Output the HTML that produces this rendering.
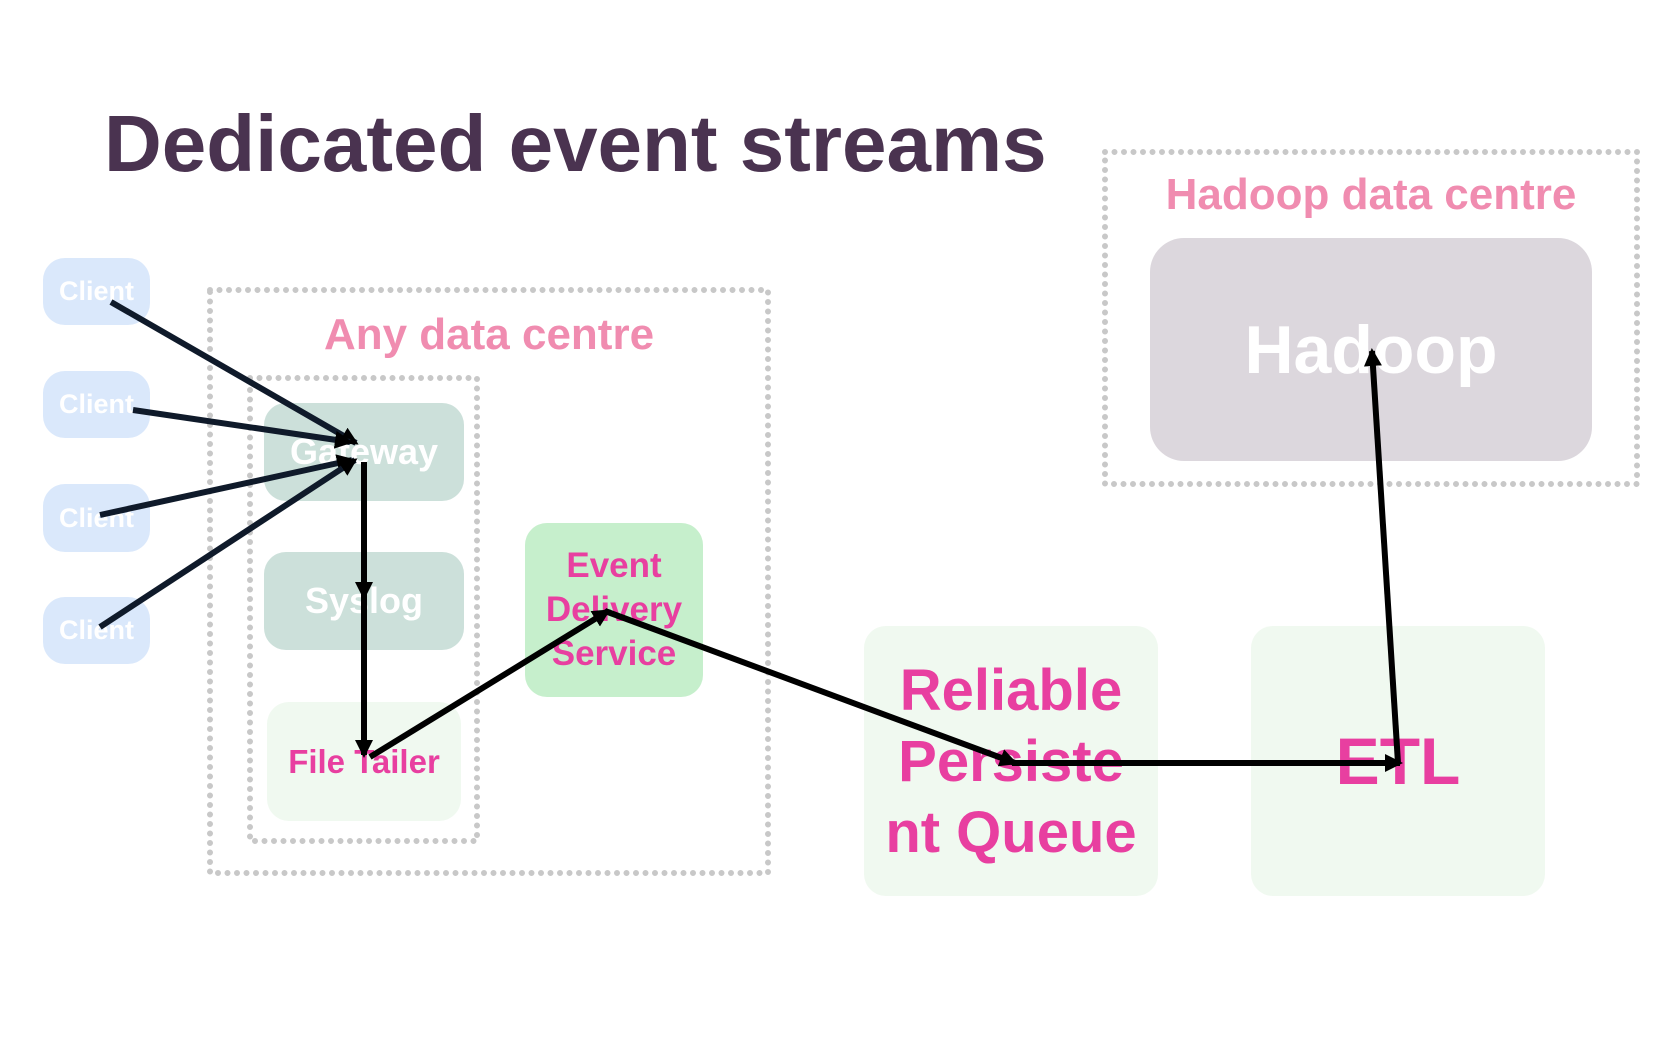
<!DOCTYPE html>
<html><head><meta charset="utf-8"><style>
html,body{margin:0;padding:0;background:#fff;}
body{width:1680px;height:1050px;position:relative;overflow:hidden;font-family:"Liberation Sans",Arial,sans-serif;font-weight:bold;}
.b{position:absolute;border-radius:22px;display:flex;align-items:center;justify-content:center;text-align:center;}
.t{position:absolute;white-space:nowrap;}
</style></head><body>
<div class="t" style="left:104px;top:98px;font-size:80px;color:#4a3350;">Dedicated event streams</div>

<svg width="1680" height="1050" style="position:absolute;left:0;top:0">
<g fill="none" stroke="#c8c8c8" stroke-width="6" stroke-linecap="round" stroke-dasharray="0 9.5">
<rect x="210" y="290" width="558" height="583"/>
<rect x="250" y="378" width="227" height="463"/>
<rect x="1105" y="152" width="532" height="332"/>
</g>
</svg>

<div class="b" style="left:43px;top:258px;width:107px;height:67px;background:#dae8fb;color:#fff;font-size:27px;">Client</div>
<div class="b" style="left:43px;top:371px;width:107px;height:67px;background:#dae8fb;color:#fff;font-size:27px;">Client</div>
<div class="b" style="left:43px;top:484px;width:107px;height:68px;background:#dae8fb;color:#fff;font-size:27px;">Client</div>
<div class="b" style="left:43px;top:597px;width:107px;height:67px;background:#dae8fb;color:#fff;font-size:27px;">Client</div>

<div class="t" style="left:210px;width:558px;text-align:center;top:310px;font-size:44px;color:#f08cb0;">Any data centre</div>
<div class="b" style="left:264px;top:403px;width:200px;height:98px;background:#cce0da;color:#fff;font-size:36px;">Gateway</div>
<div class="b" style="left:264px;top:552px;width:200px;height:98px;background:#cce0da;color:#fff;font-size:36px;">Syslog</div>
<div class="b" style="left:267px;top:702px;width:194px;height:119px;background:#f0f9f0;color:#e83fa0;font-size:33px;">File Tailer</div>
<div class="b" style="left:525px;top:523px;width:178px;height:174px;background:#c6efcc;color:#e83fa0;font-size:35px;line-height:44px;">Event<br>Delivery<br>Service</div>
<div class="b" style="left:864px;top:626px;width:294px;height:270px;background:#f0f9f0;color:#e83fa0;font-size:58px;line-height:71px;">Reliable<br>Persiste<br>nt Queue</div>
<div class="b" style="left:1251px;top:626px;width:294px;height:270px;background:#f0f9f0;color:#e83fa0;font-size:66px;">ETL</div>

<div class="t" style="left:1105px;width:532px;text-align:center;top:170px;font-size:44px;color:#f08cb0;">Hadoop data centre</div>
<div class="b" style="left:1150px;top:238px;width:442px;height:223px;background:#dcd7dd;color:#fff;font-size:68px;border-radius:34px;">Hadoop</div>

<svg width="1680" height="1050" style="position:absolute;left:0;top:0">
<defs><marker id="a" markerWidth="3" markerHeight="3" refX="2.5" refY="1.5" orient="auto" markerUnits="strokeWidth"><path d="M0,0 L3,1.5 L0,3 Z" fill="#000"/></marker></defs>
<g stroke-width="6" fill="none" marker-end="url(#a)">
<line x1="111" y1="302" x2="356" y2="443" stroke="#0f1a2a"/>
<line x1="133" y1="410" x2="350" y2="442" stroke="#0f1a2a"/>
<line x1="100" y1="515" x2="352" y2="460" stroke="#0f1a2a"/>
<line x1="100" y1="627" x2="355" y2="460" stroke="#0f1a2a"/>
<line x1="364" y1="462" x2="364" y2="597" stroke="#000"/>
<line x1="364" y1="597" x2="364" y2="755" stroke="#000"/>
<line x1="370" y1="757" x2="608" y2="611" stroke="#000"/>
<line x1="605" y1="611" x2="1015" y2="763" stroke="#000"/>
<line x1="1012" y1="763" x2="1400" y2="763" stroke="#000"/>
<line x1="1398" y1="763" x2="1372" y2="351" stroke="#000"/>
</g>
</svg>
</body></html>
